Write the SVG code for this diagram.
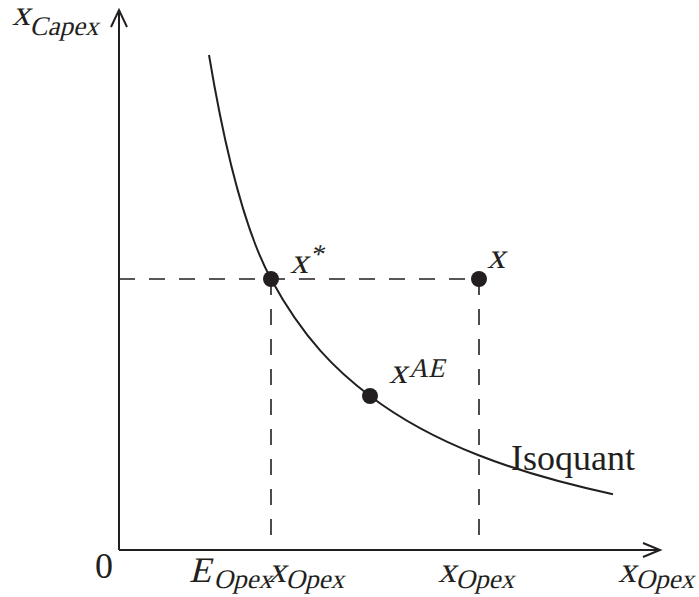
<svg xmlns="http://www.w3.org/2000/svg" width="699" height="597" viewBox="0 0 699 597">
<style>
.ax{stroke:#231f20;stroke-width:2;fill:none}
.dash{stroke:#231f20;stroke-width:1.6;fill:none;stroke-dasharray:16 14}
.curve{stroke:#231f20;stroke-width:2;fill:none}
.dot{fill:#231f20}
text{font-family:"Liberation Serif","Times New Roman",serif;fill:#231f20;font-style:normal}
.big{font-size:36px}
.sub{font-size:27px}
</style>
<rect width="699" height="597" fill="#fff"/>
<g id="connectors">
<path class="dash" d="M119,279 H479"/>
<path class="dash" d="M271,279 V550"/>
<path class="dash" d="M479,279 V550"/>
<path class="ax" d="M119,550 V10 M111,27 L119,10 L127,27"/>
<path class="ax" d="M119,550 H660 M643,543 L660,550 L643,557"/>
<path id="isoquant" class="curve" d="M209,55 C226.6,160.7 247.3,235.3 271,279 C304,339.7 337,371 370,396 C406,423.3 442,440.9 478,455 C523,472.7 568,484.5 613,494.2"/>
</g>
<g id="xstar"><circle class="dot" cx="271" cy="279" r="8"/>
<g transform="translate(290,273) skewX(-14)"><text class="big" x="0" y="0">x</text><text class="sub" x="17" y="-10">*</text></g></g>
<g id="xpt"><circle class="dot" cx="479" cy="279" r="8"/>
<g transform="translate(487,268) skewX(-14)"><text class="big" x="0" y="0">x</text></g></g>
<g id="xae"><circle class="dot" cx="370" cy="396" r="8"/>
<g transform="translate(389,383) skewX(-14)"><text class="big" x="0" y="0">x</text><text class="sub" x="18" y="-6">AE</text></g></g>
<g id="iso-label"><text class="big" x="511" y="470">Isoquant</text></g>
<g id="ylabel"><g transform="translate(12,25) skewX(-14)"><text class="big" x="0" y="0">x</text><text class="sub" x="20" y="10">Capex</text></g></g>
<g id="origin"><text class="big" x="95" y="578">0</text></g>
<g id="eopex"><g transform="translate(189,582) skewX(-14)"><text class="big" x="0" y="0">E</text><text class="sub" x="26" y="6">Opex</text></g></g>
<g id="xopex1"><g transform="translate(268,582) skewX(-14)"><text class="big" x="0" y="0">x</text><text class="sub" x="19" y="6">Opex</text></g></g>
<g id="xopex2"><g transform="translate(438,582) skewX(-14)"><text class="big" x="0" y="0">x</text><text class="sub" x="19" y="6">Opex</text></g></g>
<g id="xlabel"><g transform="translate(618,582) skewX(-14)"><text class="big" x="0" y="0">x</text><text class="sub" x="19" y="6">Opex</text></g></g>
</svg>
